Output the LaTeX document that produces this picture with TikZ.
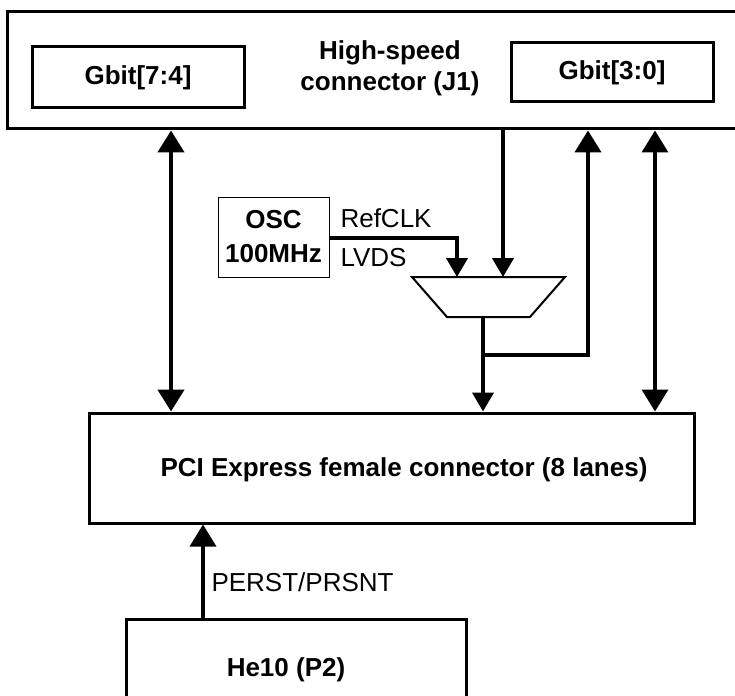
\documentclass[tikz,border=0pt]{standalone}
\usepackage{fontspec}
\setmainfont{Liberation Sans}
\usepackage{tikz}
\usetikzlibrary{arrows.meta, positioning, calc}

\tikzset{
  blk/.style={draw, line width=3pt, inner sep=0pt},
  bus/.style={line width=4.5pt, -{Triangle[width=26pt,length=22pt]}},
  sig/.style={line width=4pt, -{Triangle[width=21pt,length=19pt]}},
  txt/.style={font=\fontsize{26}{31}\selectfont},
  btxt/.style={font=\fontsize{26}{31}\selectfont\bfseries, align=center}
}

\begin{document}
\begin{tikzpicture}[x=1pt, y=-1pt]
  \clip (0,0) rectangle (735,695);
  % boxes
  \node[blk, minimum width=740pt, minimum height=117pt] (j1) at (377,70.5) {};
  \node[btxt] (j1lbl) at (390,68) {High-speed\\connector (J1)};
  \node[blk, btxt, minimum width=212pt, minimum height=61pt] (g74) at (138,77.5) {Gbit[7:4]};
  \node[blk, btxt, minimum width=202pt, minimum height=59pt] (g30) at (612,72.5) {Gbit[3:0]};
  \node[draw, thin, btxt, inner sep=0pt, minimum width=111pt, minimum height=80pt] (osc) at (273.5,237) {OSC\\[3pt]100MHz};
  \node[blk, minimum width=605pt, minimum height=110pt] (pci) at (391.5,468) {};
  \node[btxt] (pcilbl) at (404,470) {PCI Express female connector (8 lanes)};
  \node[blk, minimum width=340pt, minimum height=110pt] (he10) at (296,674) {};
  \node[btxt] (he10lbl) at (286,670) {He10 (P2)};
  % mux
  \draw[line width=2pt] (412,277) -- (565,277) -- (530,317) -- (447,317) -- cycle;
  \coordinate (muxa) at (457,277);
  \coordinate (muxb) at (503,277);
  \coordinate (muxo) at (483,317);
  \coordinate (tap) at (483,355);
  % labels
  \node[txt, anchor=west] (refclk) at (337,218) {RefCLK};
  \node[txt, anchor=west] (lvds) at (337,258) {LVDS};
  \node[txt, anchor=west] (perst) at (208,582) {PERST/PRSNT};
  % connectors
  \draw[bus, {Triangle[width=26pt,length=22pt]}-{Triangle[width=26pt,length=22pt]}] (171,0 |- j1.south) -- (171,0 |- pci.north);
  \draw[bus, line width=3.5pt, {Triangle[width=26pt,length=22pt]}-{Triangle[width=26pt,length=22pt]}] (655,0 |- j1.south) -- (655,0 |- pci.north);
  \draw[sig] (muxb |- j1.south) -- (muxb);
  \draw[sig] (osc.east |- 0,238) -| (muxa);
  \draw[sig] (muxo) -- (muxo |- pci.north);
  \draw[bus] (tap) -| (588,0 |- j1.south);
  \draw[bus, line width=3.5pt] (203,0 |- he10.north) -- (203,0 |- pci.south);
\end{tikzpicture}
\end{document}
